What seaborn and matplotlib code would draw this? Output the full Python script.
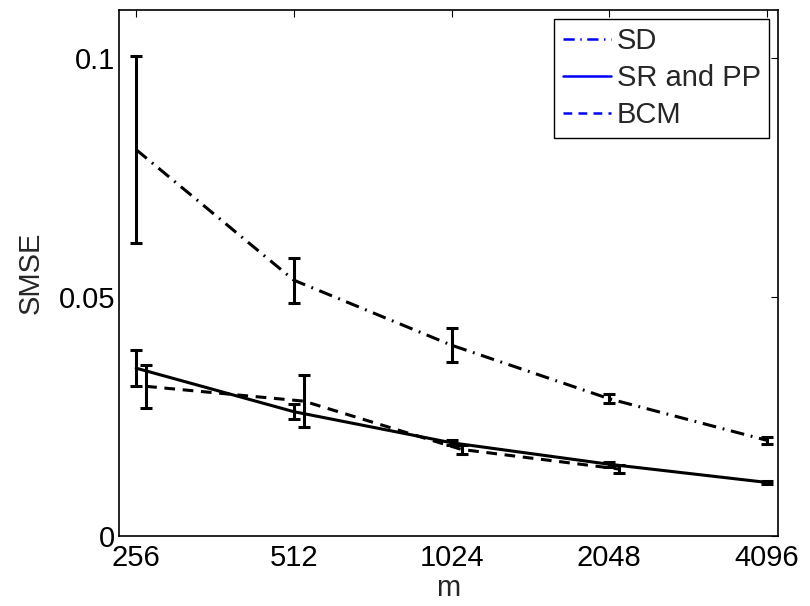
import matplotlib
matplotlib.use("Agg")
import matplotlib.pyplot as plt
from matplotlib.lines import Line2D
import seaborn as sns
import pandas as pd

# ---- data ----
m = [256, 512, 1024, 2048, 4096]
sd_mean = [0.0808, 0.0535, 0.0399, 0.0287, 0.0200]
sd_err = [0.0195, 0.0047, 0.0036, 0.0009, 0.0008]
sr_mean = [0.0351, 0.0260, 0.0195, 0.0150, 0.0112]
sr_err = [0.0037, 0.0016, 0.0005, 0.0005, 0.0003]
bcm_m = [256, 512, 1024, 2048]
bcm_mean = [0.0313, 0.0282, 0.0181, 0.0140]
bcm_err = [0.0045, 0.0055, 0.0010, 0.0008]
labels = ["SD", "SR and PP", "BCM"]
xtick_labels = ["256", "512", "1024", "2048", "4096"]

bcm_shift = 1.045  # small horizontal offset of BCM points for readability

sns.set_theme(style="white")
plt.rcParams["font.family"] = ["Liberation Sans", "DejaVu Sans"]

fig = plt.figure(figsize=(8.1, 6.06), dpi=100)
ax = fig.add_axes([0.147, 0.1155, 0.8135, 0.868])

df_sd = pd.DataFrame({"m": m, "v": sd_mean})
df_sr = pd.DataFrame({"m": m, "v": sr_mean})
df_bcm = pd.DataFrame({"m": [x * bcm_shift for x in bcm_m], "v": bcm_mean})

lw = 2.2
sns.lineplot(data=df_sd, x="m", y="v", ax=ax, color="black", lw=lw, legend=False)
ax.lines[-1].set_dashes([4.5, 2.2, 0.6, 2.2])
sns.lineplot(data=df_sr, x="m", y="v", ax=ax, color="black", lw=lw, legend=False)
sns.lineplot(data=df_bcm, x="m", y="v", ax=ax, color="black", lw=lw, legend=False)
ax.lines[-1].set_dashes([3.5, 2.5])

ekw = dict(fmt="none", ecolor="black", elinewidth=2.2, capsize=4.5, capthick=2.2, zorder=3)
ax.errorbar(df_sd["m"], sd_mean, yerr=sd_err, **ekw)
ax.errorbar(df_sr["m"], sr_mean, yerr=sr_err, **ekw)
ax.errorbar(df_bcm["m"], bcm_mean, yerr=bcm_err, **ekw)

ax.set_xscale("log", base=2)
ax.set_xlim(237.5, 4299)
ax.set_ylim(0, 0.11)
ax.set_xticks(m)
ax.set_xticklabels(xtick_labels)
ax.minorticks_off()
ax.set_yticks([0, 0.05, 0.1])
ax.set_yticklabels(["0", "0.05", "0.1"])
ax.tick_params(axis="both", which="both", direction="in", length=5, width=0.8,
               top=True, right=True, labelsize=21, pad=3, colors="black")
ax.tick_params(axis="x", pad=6)
for s in ax.spines.values():
    s.set_color("black")
    s.set_linewidth(1.2)

ax.set_xlabel("m", fontsize=21, labelpad=1)
ax.set_ylabel("SMSE", fontsize=21, labelpad=10)
ax.grid(False)

handles = [
    Line2D([], [], color="blue", lw=1.8, dashes=[4.5, 2.2, 0.6, 2.2]),
    Line2D([], [], color="blue", lw=1.8),
    Line2D([], [], color="blue", lw=1.8, dashes=[3.5, 2.5]),
]
leg = ax.legend(handles, labels, loc="upper right", fontsize=21, frameon=True,
                fancybox=False, edgecolor="black", framealpha=1,
                handlelength=1.65, handletextpad=0.2, borderpad=0.3,
                labelspacing=0.3, borderaxespad=0.3)
leg.get_frame().set_linewidth(1.0)

fig.savefig("out.png", dpi=100)
